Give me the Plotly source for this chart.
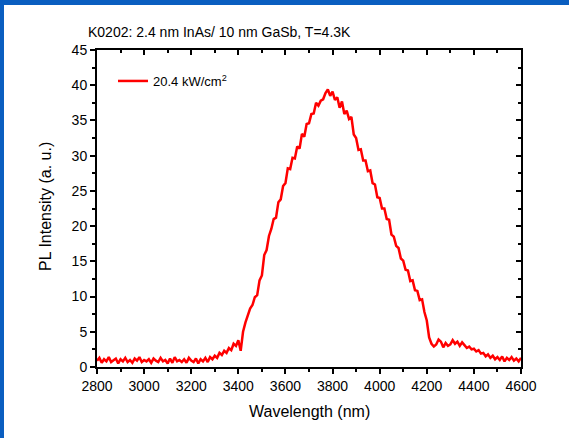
import plotly.graph_objects as go

wavelength = list(range(2800, 4601, 10))
intensity = [
    0.9, 1.3, 0.6, 1.1, 0.8, 1.4, 0.7, 1.0, 1.2, 0.5, 1.1, 0.8, 1.3, 0.7, 1.0, 0.6, 1.2, 0.9, 1.4, 0.7, 1.0,
    0.8, 1.1, 0.6, 1.2, 0.9, 0.7, 1.3, 0.8, 1.0, 0.5, 1.2, 0.6, 1.4, 0.8, 1.0, 0.7, 1.1, 0.6, 1.3, 0.9,
    0.7, 1.2, 0.5, 1.1, 0.8, 1.3, 0.7, 1.4, 1.1, 1.6, 1.3, 2.0, 1.7, 2.3, 2.0, 2.7, 2.4, 3.3, 3.0, 3.8,
    2.3, 5.0, 6.3, 7.4, 8.3, 8.8, 9.9, 10.2, 12.3, 13.0, 15.9, 16.6, 18.6, 19.6, 21.0, 21.2, 23.4, 23.8, 25.7, 26.1,
    28.2, 28.1, 29.7, 29.6, 31.3, 31.0, 33.1, 32.7, 34.5, 34.6, 35.9, 36.0, 37.5, 37.1, 37.8, 38.0, 38.9, 39.4, 38.5, 39.1,
    37.9, 38.3, 36.8, 37.7, 35.9, 36.4, 35.2, 35.5, 33.0, 32.5, 30.8, 30.9, 29.3, 29.3, 27.8, 27.9, 26.1, 25.9, 24.1, 24.0,
    22.5, 22.5, 21.0, 20.9, 18.8, 18.5, 17.2, 16.9, 15.4, 15.1, 13.8, 13.7, 12.2, 12.3, 10.9, 10.8, 9.5, 9.6, 7.8, 6.6,
    4.2, 3.3, 2.9, 3.2, 3.9, 3.6, 2.8, 3.4, 3.0, 3.2, 3.8, 3.3, 3.6, 3.0, 3.5, 3.1, 2.7, 2.9, 2.5, 2.6,
    2.2, 2.4, 1.9, 2.0, 1.5, 1.8, 1.3, 1.6, 1.1, 1.4, 1.0, 1.5, 0.8, 1.3, 1.0, 1.4, 0.9, 1.2, 0.8, 1.3,
]
series_name = "20.4 kW/cm<sup>2</sup>"
title_text = "K0202: 2.4 nm InAs/ 10 nm GaSb, T=4.3K"
x_title = "Wavelength (nm)"
y_title = "PL Intensity (a. u.)"

W, H = 569, 438
L, R, T, B = 97, 521, 50, 367
pw, ph = R - L, B - T
font = "Liberation Sans, Arial, sans-serif"

fig = go.Figure()
fig.add_trace(go.Scatter(x=wavelength, y=intensity, mode="lines", name=series_name,
                         line=dict(color="#ff0000", width=2.5)))
fig.add_trace(go.Scatter(x=[wavelength[0]], y=[intensity[0]], xaxis="x2", yaxis="y2",
                         mode="markers", marker=dict(opacity=0), showlegend=False, hoverinfo="skip"))

axis_common = dict(showgrid=False, zeroline=False, showline=True, linecolor="black", linewidth=2,
                   tickcolor="black", tickwidth=2, ticklen=5,
                   tickfont=dict(family=font, size=14, color="black"))
fig.update_layout(
    width=W, height=H,
    margin=dict(l=L, r=W - R, t=T, b=H - B, pad=0),
    paper_bgcolor="white", plot_bgcolor="white",
    showlegend=True,
    legend=dict(x=(113 - L) / pw, y=(B - 66) / ph, xanchor="left", yanchor="top",
                bgcolor="rgba(0,0,0,0)", font=dict(family=font, size=13, color="black"),
                tracegroupgap=0),
    xaxis=dict(range=[2800, 4600], dtick=200, tick0=2800, ticks="outside",
               minor=dict(dtick=100, ticklen=3, tickcolor="black", ticks="outside", tickwidth=2),
               **axis_common),
    yaxis=dict(range=[0, 45], dtick=5, tick0=0, ticks="outside",
               minor=dict(dtick=2.5, ticklen=3, tickcolor="black", ticks="outside", tickwidth=2),
               **axis_common),
    xaxis2=dict(range=[2800, 4600], overlaying="x", side="top", anchor="y", dtick=200, tick0=2800,
                ticks="inside", showticklabels=False, showgrid=False, zeroline=False,
                showline=True, linecolor="black", linewidth=2, tickcolor="black", tickwidth=2, ticklen=5,
                minor=dict(dtick=100, ticklen=3, tickcolor="black", ticks="inside", tickwidth=2)),
    yaxis2=dict(range=[0, 45], overlaying="y", side="right", anchor="x", dtick=5, tick0=0,
                ticks="inside", showticklabels=False, showgrid=False, zeroline=False,
                showline=True, linecolor="black", linewidth=2, tickcolor="black", tickwidth=2, ticklen=5,
                minor=dict(dtick=2.5, ticklen=3, tickcolor="black", ticks="inside", tickwidth=2)),
    title=dict(text=title_text, x=88 / W, xanchor="left", xref="container", y=1 - 32 / H, yanchor="middle",
               font=dict(family=font, size=14, color="black")),
)

fig.add_annotation(text=x_title, xref="paper", yref="paper", x=0.5, y=(B - 411) / ph,
                   xanchor="center", yanchor="middle", showarrow=False,
                   font=dict(family=font, size=16, color="black"))
fig.add_annotation(text=y_title, xref="paper", yref="paper", x=(45 - L) / pw, y=(B - 207) / ph,
                   xanchor="center", yanchor="middle", showarrow=False, textangle=-90,
                   font=dict(family=font, size=16, color="black"))

# blue frame (top and left bands)
blue = "#0a5ec0"
fig.add_shape(type="rect", xref="paper", yref="paper", layer="above", line=dict(width=0),
              fillcolor=blue, x0=-L / pw, x1=(4 - L) / pw, y0=(B - H) / ph, y1=B / ph)
fig.add_shape(type="rect", xref="paper", yref="paper", layer="above", line=dict(width=0),
              fillcolor=blue, x0=-L / pw, x1=(W - L) / pw, y0=(B - 5) / ph, y1=B / ph)

fig.write_html("out.html")
